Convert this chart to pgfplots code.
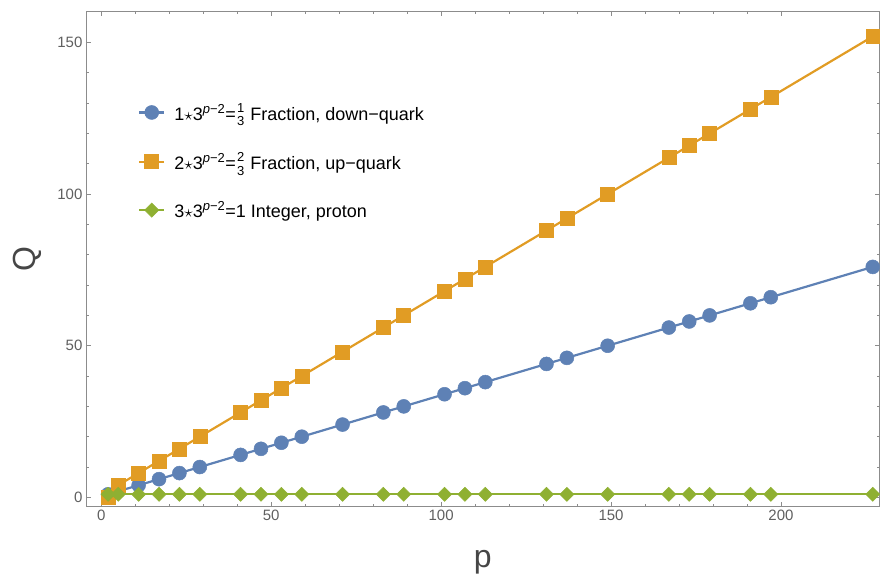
\documentclass[border=0pt]{standalone}
\usepackage{fontspec}
\setmainfont{Liberation Sans}
\usepackage{amsmath}
\usepackage{pgfplots}
\pgfplotsset{compat=1.18}

\definecolor{mblue}{RGB}{94,129,181}
\definecolor{morange}{RGB}{225,156,36}
\definecolor{mgreen}{RGB}{143,176,50}
\definecolor{framegray}{RGB}{140,140,140}
\definecolor{ticktext}{RGB}{95,95,95}
\definecolor{labeltext}{RGB}{70,70,70}

% primes p = 2 mod 3, charge Q for the three series
\pgfplotstableread{
p   down  up   proton
2   1     0    1
5   2     4    1
11  4     8    1
17  6     12   1
23  8     16   1
29  10    20   1
41  14    28   1
47  16    32   1
53  18    36   1
59  20    40   1
71  24    48   1
83  28    56   1
89  30    60   1
101 34    68   1
107 36    72   1
113 38    76   1
131 44    88   1
137 46    92   1
149 50    100  1
167 56    112  1
173 58    116  1
179 60    120  1
191 64    128  1
197 66    132  1
227 76    152  1
}\quarks

\newcommand{\fr}[2]{\ensuremath{\genfrac{}{}{0pt}{}{\mbox{\fontsize{13}{13}\selectfont #1}}{\mbox{\fontsize{13}{13}\selectfont #2}}}}
\newcommand{\pw}{\textsuperscript{\fontsize{13}{13}\selectfont\textit{p}−2}}

\begin{document}
\begin{tikzpicture}
\begin{axis}[
    scale only axis,
    width=794pt, height=496pt,
    xmin=-4.5, xmax=229,
    ymin=-3.1, ymax=160.4,
    xtick={0,50,...,200},
    ytick={0,50,100,150},
    minor x tick num=4,
    minor y tick num=4,
    major tick length=5pt,
    minor tick length=3pt,
    tick align=inside,
    axis line style={framegray, line width=0.9pt},
    every tick/.style={framegray, line width=0.8pt},
    /pgf/number format/assume math mode=true,
    tick label style={font=\fontsize{15}{15}\selectfont, text=ticktext},
    xlabel={p}, ylabel={Q},
    label style={font=\fontsize{32}{32}\selectfont, text=labeltext},
    xlabel style={at={(axis description cs:0.5,-0.111)}, anchor=center},
    ylabel style={at={(axis description cs:-0.0743,0.5)}, anchor=center},
    legend cell align=left,
    legend style={at={(axis description cs:0.0655,0.818)}, anchor=north west,
        draw=none, fill=none, font=\fontsize{18}{18}\selectfont,
        row sep=27pt, column sep=7pt, inner sep=0pt},
    legend image code/.code={
        \draw[mark repeat=2,mark phase=2] plot coordinates {(0pt,0pt) (12.5pt,0pt) (25pt,0pt)};},
]
\addplot[mblue, line width=2.2pt, mark=*, mark size=7pt, mark options={fill=mblue, draw=mblue, line width=0.5pt}]
    table[x=p, y=down] {\quarks};
\addlegendentry{1$\star$3\pw=\fr{1}{3} Fraction, down−quark}
\addplot[morange, line width=2.2pt, mark=square*, mark size=7pt, mark options={fill=morange, draw=morange, line width=0.5pt}]
    table[x=p, y=up] {\quarks};
\addlegendentry{2$\star$3\pw=\fr{2}{3} Fraction, up−quark}
\addplot[mgreen, line width=2.2pt, mark=square*, mark size=5pt, mark options={fill=mgreen, draw=mgreen, line width=0.5pt, rotate=45}]
    table[x=p, y=proton] {\quarks};
\addlegendentry{3$\star$3\pw=1 Integer, proton}
\end{axis}
\path ([xshift=-86pt,yshift=-69pt]current axis.south west) rectangle ([yshift=11pt]current axis.north east);
\end{tikzpicture}
\end{document}
